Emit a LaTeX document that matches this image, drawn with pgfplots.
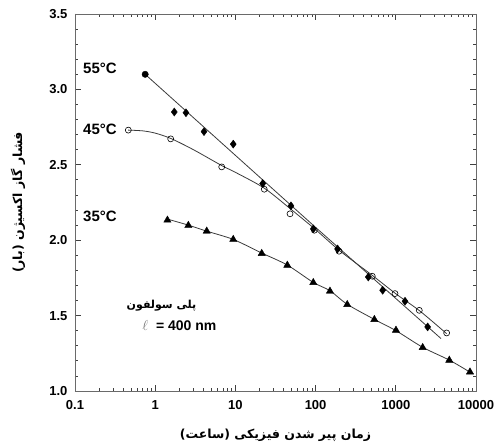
\documentclass[border=0pt]{standalone}
\usepackage{fontspec}
\setmainfont{Liberation Sans}
\newfontfamily\arabicfont[Script=Arabic]{DejaVu Sans}
\TeXXeTstate=1
\usepackage{pgfplots}
\pgfplotsset{compat=1.18}

\definecolor{fitline}{HTML}{3A3A3A}
\definecolor{frame}{HTML}{6A6A6A}

\begin{document}
\begin{tikzpicture}
\begin{axis}[
  at={(0,0)}, anchor=south west,
  scale only axis, width=401pt, height=377pt,
  xmode=log, xmin=0.1, xmax=10000,
  ymin=1, ymax=3.5,
  xtick={0.1,1,10,100,1000,10000},
  xticklabels={0.1,1,10,100,1000,10000},
  ytick={1,1.5,2,2.5,3,3.5},
  minor y tick num=4,
  yticklabel style={/pgf/number format/fixed, /pgf/number format/fixed zerofill,
    /pgf/number format/precision=1, xshift=-4pt},
  /pgf/number format/assume math mode=true,
  ticklabel style={font=\fontsize{13}{15}\selectfont\bfseries},
  xticklabel style={yshift=-6pt},
  axis line style={frame, line width=0.9pt},
  every tick/.style={black!75, line width=0.8pt},
  major tick length=6pt, minor tick length=3.5pt,
  xlabel={\arabicfont\bfseries\beginR زمان پیر شدن فیزیکی (ساعت)\endR},
  ylabel={\arabicfont\bfseries\beginR فشار گاز اکسیژن (بار)\endR},
  label style={font=\fontsize{12.5}{14}\selectfont},
  xlabel style={at={(axis description cs:0.5,-0.117)}, anchor=center},
  ylabel style={at={(axis description cs:-0.142,0.5)}, anchor=center},
]
% 55 C fit
\addplot[fitline, line width=0.8pt] coordinates {(0.75,3.10)(100,2.085)(3660,1.348)};
% 45 C fit
\addplot[fitline, line width=0.8pt, smooth] coordinates {
(0.46,2.73)(0.7,2.725)(1,2.71)(1.56,2.675)(3,2.60)(6.75,2.495)(10,2.45)
(22.9,2.345)(48,2.21)(100,2.07)(200,1.93)(500,1.77)(1000,1.645)(2000,1.53)(4305,1.38)};
% 35 C fit
\addplot[fitline, line width=0.8pt, smooth] coordinates {
(1.42,2.14)(2.59,2.10)(4.39,2.06)(9.4,2.005)(21.3,1.915)(44.4,1.835)(93.6,1.72)
(151,1.665)(248,1.575)(540,1.475)(1005,1.40)(2163,1.29)(4645,1.205)(8414,1.125)};

% 55 C data
\addplot[only marks, mark=*, mark size=3.2pt, black] coordinates {(0.75,3.10)};
\addplot[only marks, mark=diamond*, mark size=4pt, black] coordinates {
(1.73,2.85)(2.42,2.845)(4.06,2.72)(9.4,2.637)(21.9,2.376)(49.3,2.228)(93.6,2.075)
(188,1.942)(454,1.756)(686,1.668)(1303,1.595)(2497,1.425)};
% 45 C data
\addplot[only marks, mark=o, mark size=3pt, black, mark options={fill=white, line width=0.6pt}] coordinates {
(0.462,2.73)(1.56,2.672)(6.75,2.486)(22.9,2.338)(48,2.175)(96.4,2.066)(196,1.927)
(509,1.761)(977,1.646)(1963,1.535)(4305,1.385)};
% 35 C data
\addplot[only marks, mark=triangle*, mark size=4.2pt, black] coordinates {
(1.42,2.133)(2.59,2.098)(4.39,2.06)(9.4,2.005)(21.3,1.912)(44.4,1.834)(93.6,1.719)
(151,1.662)(248,1.573)(540,1.474)(1005,1.403)(2163,1.288)(4645,1.204)(8414,1.126)};

\node[font=\fontsize{15}{17}\selectfont\bfseries] at (axis cs:0.205,3.141) {55°C};
\node[font=\fontsize{15}{17}\selectfont\bfseries] at (axis cs:0.205,2.736) {45°C};
\node[font=\fontsize{15}{17}\selectfont\bfseries] at (axis cs:0.205,2.159) {35°C};
\node[font=\fontsize{11}{13}\selectfont\arabicfont\bfseries] at (axis cs:1.2,1.569) {\beginR پلی سولفون\endR};
\node[font=\fontsize{14}{16}\selectfont\bfseries] at (axis cs:2.0,1.436) {\textcolor{black!55}{$\ell$}\ \ = 400 nm};
\end{axis}
\pgfresetboundingbox
\path (-75pt,-56pt) rectangle (420pt,391pt);
\end{tikzpicture}
\end{document}
